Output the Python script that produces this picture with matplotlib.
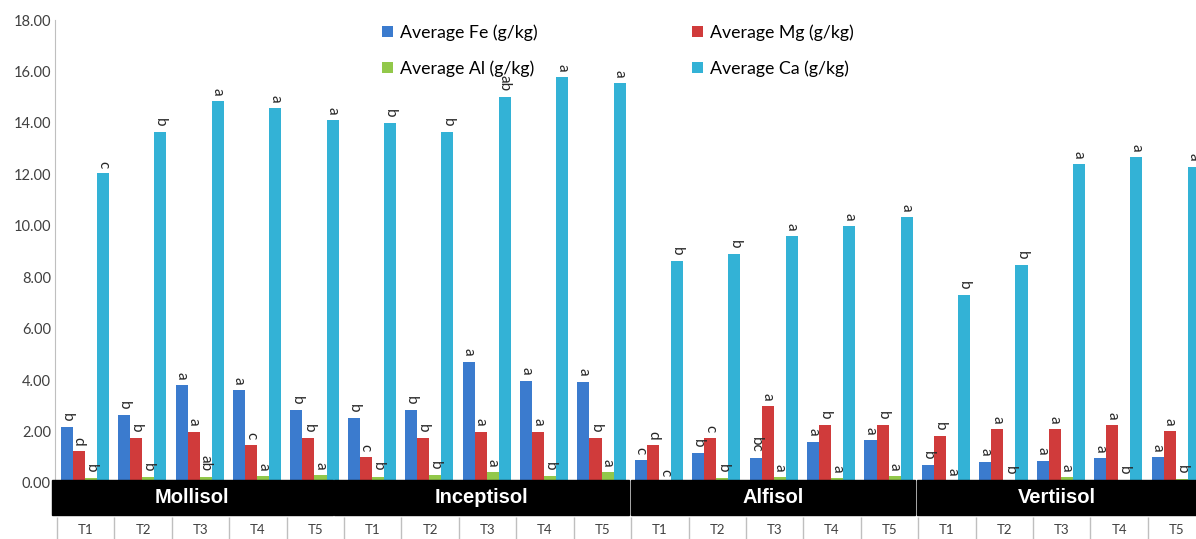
import numpy as np
import matplotlib.pyplot as plt
from matplotlib.patches import Rectangle

plt.rcParams['font.family'] = ['Lato', 'DejaVu Sans']

soils = ['Mollisol', 'Inceptisol', 'Alfisol', 'Vertiisol']
treatments = ['T1', 'T2', 'T3', 'T4', 'T5']

# values per soil, T1..T5 (g/kg)
fe = [2.19, 2.64, 3.81, 3.62, 2.84,
      2.54, 2.84, 4.72, 3.98, 3.94,
      0.89, 1.15, 0.96, 1.61, 1.67,
      0.70, 0.83, 0.87, 0.96, 0.99]
mg = [1.24, 1.74, 2.00, 1.48, 1.74,
      1.00, 1.74, 2.00, 2.00, 1.74,
      1.48, 1.74, 2.99, 2.25, 2.25,
      1.83, 2.09, 2.09, 2.25, 2.02]
al = [0.20, 0.22, 0.25, 0.28, 0.31,
      0.25, 0.31, 0.41, 0.28, 0.41,
      0.05, 0.19, 0.22, 0.19, 0.26,
      0.05, 0.10, 0.22, 0.12, 0.15]
ca = [12.04, 13.66, 14.85, 14.59, 14.11,
      13.98, 13.63, 15.02, 15.79, 15.55,
      8.63, 8.90, 9.60, 10.00, 10.34,
      7.31, 8.48, 12.39, 12.66, 12.30]

# significance letters
fe_sig = ['b', 'b', 'a', 'a', 'b', 'b', 'b', 'a', 'a', 'a',
          'c', 'b', 'bc', 'a', 'a', 'b', 'a', 'a', 'a', 'a']
mg_sig = ['d', 'b', 'a', 'c', 'b', 'c', 'b', 'a', 'a', 'b',
          'd', 'c', 'a', 'b', 'b', 'b', 'a', 'a', 'a', 'a']
al_sig = ['b', 'b', 'ab', 'a', 'a', 'b', 'b', 'a', 'b', 'a',
          'c', 'b', 'a', 'a', 'a', 'a', 'b', 'a', 'b', 'b']
ca_sig = ['c', 'b', 'a', 'a', 'a', 'b', 'b', 'ab', 'a', 'a',
          'b', 'b', 'a', 'a', 'a', 'b', 'b', 'a', 'a', 'a']

series = [('Average Fe (g/kg)', fe, fe_sig, '#3B7BCE'),
          ('Average Mg (g/kg)', mg, mg_sig, '#D03B3B'),
          ('Average Al (g/kg)', al, al_sig, '#92C84A'),
          ('Average Ca (g/kg)', ca, ca_sig, '#33B2D6')]

fig = plt.figure(figsize=(11.96, 5.39), dpi=100)
ax = fig.add_axes([55 / 1196, 0, 1 - 55 / 1196, 1])

n = len(fe)
x = np.arange(n)
offsets = [0.17, 0.38, 0.59, 0.80]
width = 0.21
handles = []
for (name, vals, sig, col), off in zip(series, offsets):
    b = ax.bar(x + off, vals, width, color=col, label=name, zorder=2)
    handles.append(b)
    for xi, v, s in zip(x + off, vals, sig):
        ax.annotate(s, (xi, v), xytext=(0, 4), textcoords='offset points',
                    rotation=-90, ha='center', va='bottom', fontsize=11,
                    color='#262626')

ax.set_xlim(-0.035, 19.84)
ax.set_ylim(-2.18, 18.78)
ax.set_xticks([])
ax.set_yticks(np.arange(0, 19, 2))
ax.set_yticklabels([f'{v:.2f}' for v in np.arange(0, 19, 2)], fontsize=10.5,
                   color='#404040')
ax.tick_params(axis='y', length=0, pad=3)
for s in ['top', 'right', 'bottom']:
    ax.spines[s].set_visible(False)
ax.spines['left'].set_bounds(0, 18)
ax.spines['left'].set_color('#BFBFBF')

# soil band
edges = [(-0.09, 4.80), (4.83, 9.96), (9.99, 14.95), (14.98, 20.5)]
for (x0, x1), soil in zip(edges, soils):
    ax.add_patch(Rectangle((x0, -1.25), x1 - x0, 1.37, color='black',
                           zorder=3, clip_on=False))
    ax.text((x0 + min(x1, 19.84)) / 2, -0.57, soil, color='white',
            fontsize=14.5, fontweight='bold', family='Liberation Sans',
            ha='center', va='center', zorder=4)

# treatment labels
ax.vlines(np.arange(0, 21), -2.18, -1.33, color='#BFBFBF', lw=1)
for i in range(n):
    ax.text(i + 0.5, -1.83, treatments[i % 5], ha='center', va='center',
            fontsize=9.5, color='#404040')

ax.legend([handles[0], handles[2], handles[1], handles[3]],
          [series[0][0], series[2][0], series[1][0], series[3][0]],
          ncol=2, frameon=False, fontsize=12.8, handlelength=0.6,
          handleheight=0.6, handletextpad=0.4, labelspacing=1.09,
          columnspacing=8.7, loc='upper left',
          bbox_to_anchor=(0.2726, 0.985))

fig.savefig('out.png', dpi=100)
